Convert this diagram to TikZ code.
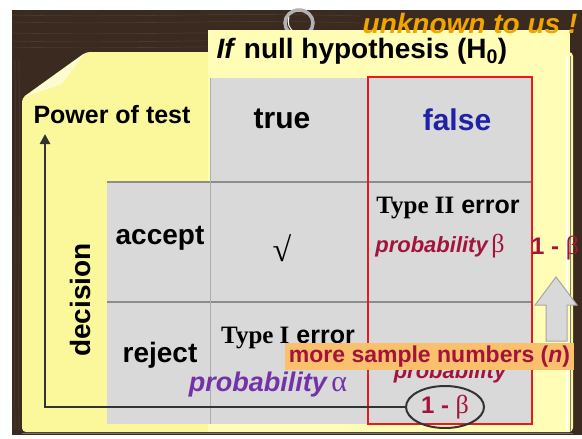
\documentclass[tikz,border=0pt]{standalone}
\usepackage{fontspec}
\newfontfamily\sansf{Liberation Sans}
\newfontfamily\serf{Liberation Serif}
\usetikzlibrary{shapes.geometric,arrows.meta}

\definecolor{wood}{HTML}{3A2A1F}
\definecolor{woodlight}{HTML}{4C3A2C}
\definecolor{paper}{HTML}{FBF89C}
\definecolor{paperfront}{HTML}{FFFDB6}
\definecolor{cell}{HTML}{D9D9D9}
\definecolor{cellline}{HTML}{8C8C8C}
\definecolor{errred}{HTML}{E31C1C}
\definecolor{crimson}{HTML}{A3143A}
\definecolor{violet}{HTML}{7432A8}
\definecolor{falseblue}{HTML}{1F22A8}
\definecolor{gold}{HTML}{F0A500}
\definecolor{banner}{HTML}{FBC06E}
\definecolor{ink}{HTML}{333333}

\tikzset{
  txt/.style={inner sep=0pt, font=\sansf\bfseries\fontsize{#1}{#1}\selectfont},
  txt/.default=28,
  grain/.style={woodlight, line width=0.7pt}
}

\begin{document}
\begin{tikzpicture}[x=1pt,y=-1pt]
\useasboundingbox (0,0) rectangle (582,439);
\fill[white] (0,0) rectangle (582,439);

% wooden board
\fill[wood] (12,10) rectangle (582,435);
\foreach \yy in {15,22,33,41,47}
  \draw[grain] (12,\yy) .. controls (130,\yy+3) and (230,\yy-3) .. (360,\yy+1);
\foreach \xx in {15,19}
  \draw[grain] (\xx,60) .. controls (\xx+1,180) and (\xx-1,300) .. (\xx,430);

% binder ring
\draw[gray!60, line width=3.5pt] (299,23) ellipse [x radius=14, y radius=13];
\draw[white, line width=1pt] (289,17) arc[start angle=200, end angle=120, x radius=14, y radius=13];

% back sheet with folded corner
\fill[paper, rounded corners=4pt] (22,432) -- (22,98) -- (86,52) -- (573,52) -- (573,432) -- cycle;
\fill[white, opacity=0.55] (24,97) -- (84,54) -- (62,84) -- cycle;
% front sheet
\fill[paperfront] (208,30) rectangle (570,432);
\draw[white, line width=1.2pt] (567,56) -- (567,430);
\draw[black!50, line width=0.8pt] (570,56) -- (570,432);
\draw[black!55, line width=1pt] (22,433) -- (573,433);

% table
\fill[cell] (210,78) rectangle (532,424);
\fill[cell] (107,182) rectangle (210,424);
\draw[cellline, line width=1.2pt] (107,182) -- (532,182);
\draw[cellline, line width=1.2pt] (107,302) -- (532,302);
\draw[cellline!70, line width=0.8pt] (210,78) -- (210,424);
\draw[errred, line width=2.5pt] (368,77) rectangle (532,424);

% headings
\node[txt=28, gold] (unk) at (470,23) {\itshape unknown to us !};
\node[txt=28] (title) at (362,51) {\textit{If} null hypothesis (H\textsubscript{0})};
\node[txt=25] (power) at (112,115) {Power of test};
\node[txt=30] (true) at (282,119) {true};
\node[txt=30, falseblue] (false) at (457,120) {false};
\node[txt=28] (accept) at (160,238) {accept};
\node[txt=28] (reject) at (160,355) {reject};
\node[txt=28, rotate=90] (decision) at (80,300) {decision};

% cell contents
\node[inner sep=0pt, font=\serf\fontsize{34}{34}\selectfont] (ok) at (282,248) {√};
\node[txt=25] (t2) at (448,208) {{\serf\bfseries Type II} {\sansf\bfseries error}};
\node[txt=22, crimson] (pb) at (440,246) {\itshape probability\,{\upshape\mdseries\serf\fontsize{26}{26}\selectfont β}};
\node[txt=25] (t1) at (288,338) {{\serf\bfseries Type I} {\sansf\bfseries error}};
\node[txt=27, violet] (pa) at (268,385) {\itshape probability\,{\upshape\mdseries\serf\fontsize{30}{30}\selectfont α}};
\node[txt=22, crimson] (pp) at (450,373) {\itshape probability};

% power path
\node[draw=ink, line width=2pt, ellipse, minimum width=78pt, minimum height=42pt, inner sep=0pt,
      txt=24, text=crimson] (pw) at (445,407) {1 - {\mdseries\serf\fontsize{26}{26}\selectfont β}};
\coordinate (tip) at (45,134);
\draw[ink, line width=2.6pt, -{Triangle[length=10pt,width=10pt]}] (pw.west) -| (tip);

% banner
\node[fill=banner, minimum width=289pt, minimum height=27pt, txt=23, text=crimson] (more) at (429.5,356.5)
  {more sample numbers (\textit{n})};

% right side: 1 - beta and hollow arrow
\node[txt=24, crimson, anchor=west] (rb) at (531,248) {1 - {\mdseries\serf\fontsize{26}{26}\selectfont β}};
\filldraw[fill=cell, draw=gray!70, line width=1pt]
  (556,277) -- (577,305) -- (567,305) -- (567,341) -- (546,341) -- (546,305) -- (535,305) -- cycle;
\end{tikzpicture}
\end{document}
